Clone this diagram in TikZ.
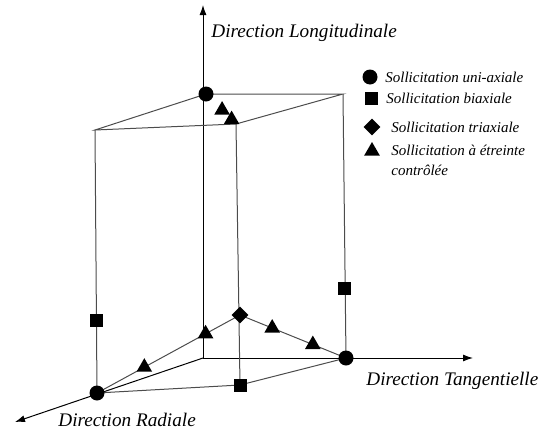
\documentclass[tikz,border=0pt]{standalone}
\usepackage{fontspec}
\setmainfont{Liberation Serif}
\usetikzlibrary{positioning,arrows.meta,shapes.geometric,backgrounds}
\tikzset{
  edge/.style={draw=black!70, line width=0.5pt},
  axis/.style={-{Latex[length=5pt,width=3.5pt]}, black, line width=0.5pt},
  uni/.style={circle, fill=black, inner sep=0pt, minimum size=7.5pt},
  bi/.style={rectangle, fill=black, inner sep=0pt, minimum size=6.5pt},
  tri/.style={diamond, fill=black, inner sep=0pt, minimum size=8.5pt},
  etr/.style={regular polygon, regular polygon sides=3, fill=black, inner sep=0pt, minimum size=9pt},
  lbl/.style={font=\fontsize{9.6}{11}\selectfont\itshape, anchor=west, inner sep=0pt},
  leg/.style={font=\fontsize{7.5}{10}\selectfont\itshape, anchor=west, inner sep=0pt, align=left},
}

\begin{document}
\begin{tikzpicture}[x=0.5pt, y=-0.5pt]
  \useasboundingbox (0,0) rectangle (547,434);
  % axes end points and box corners
  \coordinate (O) at (203,358);
  \coordinate (Ltip) at (203,5);
  \coordinate (Ttip) at (473,358);
  \coordinate (Rtip) at (15,422);
  \coordinate (A) at (95,130);
  \coordinate (B) at (236,124);
  \coordinate (C) at (343,94);
  \coordinate (F) at (240,385);

  % loading points
  \node[uni] (L) at (206,94) {};
  \node[uni] (R) at (97,393) {};
  \node[uni] (T) at (346,358) {};
  \node[tri] (D) at (240,315) {};
  \node[bi] (F1) at (F) {};
  \node[bi] (S1) at (96,320) {};
  \node[bi] (S2) at (344,288) {};

  \begin{scope}[on background layer]
    \draw[axis] (O) -- (Ltip);
    \draw[axis] (O) -- (Ttip);
    \draw[axis] (O) -- (Rtip);
    \draw[edge] (L.center) -- (A) -- (B) -- (C) -- (L.center);
    \draw[edge] (A) -- (R.center);
    \draw[edge] (B) -- (F);
    \draw[edge] (C) -- (T.center);
    \draw[edge] (R.center) -- (F) -- (T.center);
    \draw[edge] (R.center) -- (D.center) -- (T.center);
  \end{scope}

  % controlled confinement paths
  \path (L) -- (B) node[etr, pos=0.43] (E1) {} node[etr, pos=0.82] (E2) {};
  \path (R) -- (D) node[etr, pos=0.31] (E3) {} node[etr, pos=0.78] (E4) {};
  \path (D) -- (T) node[etr, pos=0.28] (E5) {} node[etr, pos=0.72] (E6) {};

  % axis labels
  \node[lbl] (lonlab) at (211,33) {Direction Longitudinale};
  \node[lbl] (tanlab) at (366,381) {Direction Tangentielle};
  \node[lbl] (radlab) at (58,420) {Direction Radiale};

  % legend
  \node[uni] (k1) at (370,77) {};
  \node[leg] (t1) at (385,77) {Sollicitation uni-axiale};
  \node[bi] (k2) at (371,98) {};
  \node[leg] (t2) at (386,98) {Sollicitation biaxiale};
  \node[tri] (k3) at (372,127) {};
  \node[leg] (t3) at (391,127) {Sollicitation triaxiale};
  \node[etr] (k4) at (372,151) {};
  \node[leg, anchor=north west] (t4) at (391,145) {Sollicitation à étreinte\\contrôlée};
\end{tikzpicture}
\end{document}
